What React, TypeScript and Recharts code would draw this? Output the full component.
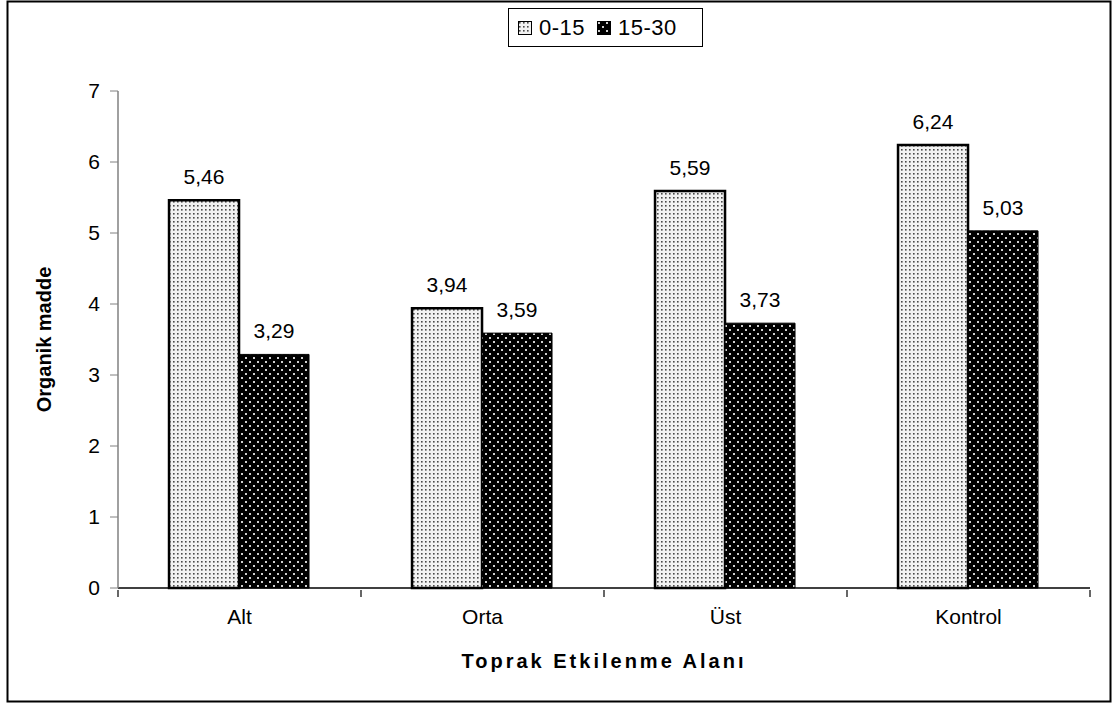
import { Bar, BarChart, LabelList, XAxis, YAxis } from "recharts";

const categories = ["Alt", "Orta", "Üst", "Kontrol"];
const depth0_15 = [5.46, 3.94, 5.59, 6.24];
const depth15_30 = [3.29, 3.59, 3.73, 5.03];
const seriesNames = ["0-15", "15-30"];
const yTicks = [0, 1, 2, 3, 4, 5, 6, 7];

const data = categories.map((c, i) => ({ name: c, a: depth0_15[i], b: depth15_30[i] }));

const font = "'Liberation Sans', Arial, sans-serif";
const fmt = (v: number) => v.toFixed(2).replace(".", ",");

const W = 1114;
const H = 704;
const X_AXIS_H = 30;
const Y_AXIS_W = 60;
const M = { top: 91, right: 24, bottom: 116 - X_AXIS_H, left: 118 - Y_AXIS_W };
const band = (W - M.left - Y_AXIS_W - M.right) / categories.length;

const Patterns = ({ p }: { p: string }) => (
  <defs>
    <pattern id={p + "light"} width="4" height="4" patternUnits="userSpaceOnUse">
      <rect width="4" height="4" fill="#f2f2f2" />
      <rect x="1" y="1" width="1.6" height="1.6" fill="#4a4a4a" />
    </pattern>
    <pattern id={p + "dark"} width="8" height="8" patternUnits="userSpaceOnUse">
      <rect width="8" height="8" fill="#000" />
      <rect x="1" y="1" width="2" height="2" fill="#d0d0d0" />
      <rect x="5" y="5" width="2" height="2" fill="#d0d0d0" />
    </pattern>
  </defs>
);

// category label plus tick marks on the band edges
const CategoryTick = (props: any) => {
  const { x, y, payload, index } = props;
  const half = band / 2;
  const top = y - 8;
  return (
    <g>
      <line x1={x - half} x2={x - half} y1={top} y2={top + 7} stroke="#000" strokeWidth={1.2} />
      {index === categories.length - 1 && (
        <line x1={x + half} x2={x + half} y1={top} y2={top + 7} stroke="#000" strokeWidth={1.2} />
      )}
      <text x={x} y={top + 34} textAnchor="middle" fill="#000" fontSize={21} fontFamily={font}>
        {payload.value}
      </text>
    </g>
  );
};

const LegendBox = () => (
  <div
    style={{
      position: "absolute",
      left: 508,
      top: 8,
      width: 193,
      height: 37,
      border: "1px solid #000",
      background: "#fff",
      display: "flex",
      alignItems: "center",
      fontFamily: font,
      fontSize: 22,
      letterSpacing: 0.5,
      color: "#000",
    }}
  >
    <svg width="14" height="14" style={{ marginLeft: 9, marginRight: 7 }}>
      <Patterns p="lg" />
      <rect x="0.5" y="0.5" width="13" height="13" fill="url(#lglight)" stroke="#000" />
    </svg>
    <span>{seriesNames[0]}</span>
    <svg width="14" height="14" style={{ marginLeft: 12, marginRight: 7 }}>
      <rect x="0.5" y="0.5" width="13" height="13" fill="url(#lgdark)" stroke="#000" />
    </svg>
    <span>{seriesNames[1]}</span>
  </div>
);

export default function App() {
  return (
    <div style={{ position: "fixed", left: 0, top: 0, width: W, height: H, background: "#fff" }}>
      <div style={{ position: "absolute", left: 0, top: 0 }}>
        <BarChart width={W} height={H} data={data} margin={M} barCategoryGap="21%" barGap={0}>
          <Patterns p="ch" />
          <XAxis
            dataKey="name"
            tickLine={false}
            axisLine={{ stroke: "#000", strokeWidth: 1.5 }}
            tick={<CategoryTick />}
            tickSize={8}
            height={X_AXIS_H}
            interval={0}
            label={{
              value: "Toprak Etkilenme Alanı",
              position: "insideBottom",
              offset: -50,
              style: { fontFamily: font, fontSize: 20, fontWeight: "bold", fill: "#000", letterSpacing: 3 },
            }}
          />
          <YAxis
            domain={[0, 7]}
            ticks={yTicks}
            width={Y_AXIS_W}
            interval={0}
            axisLine={{ stroke: "#808080", strokeWidth: 1.5 }}
            tickLine={{ stroke: "#808080" }}
            tickSize={8}
            tick={{ fill: "#000", fontSize: 21, fontFamily: font, dx: -8 }}
            label={{
              value: "Organik madde",
              angle: -90,
              position: "insideLeft",
              offset: -14,
              style: { fontFamily: font, fontSize: 20, fontWeight: "bold", fill: "#000", textAnchor: "middle" },
            }}
          />
          <Bar dataKey="a" name={seriesNames[0]} fill="url(#chlight)" stroke="#000" strokeWidth={2.5} isAnimationActive={false}>
            <LabelList dataKey="a" position="top" offset={16} formatter={(v: any) => fmt(Number(v))}
              style={{ fill: "#000", fontSize: 21, fontFamily: font }} />
          </Bar>
          <Bar dataKey="b" name={seriesNames[1]} fill="url(#chdark)" stroke="#000" strokeWidth={1} isAnimationActive={false}>
            <LabelList dataKey="b" position="top" offset={16} formatter={(v: any) => fmt(Number(v))}
              style={{ fill: "#000", fontSize: 21, fontFamily: font }} />
          </Bar>
        </BarChart>
      </div>
      <LegendBox />
      <svg width={W} height={H} style={{ position: "absolute", left: 0, top: 0, pointerEvents: "none" }}>
        <rect x={7.5} y={1.5} width={1103} height={700} fill="none" stroke="#000" strokeWidth={2} />
      </svg>
    </div>
  );
}
